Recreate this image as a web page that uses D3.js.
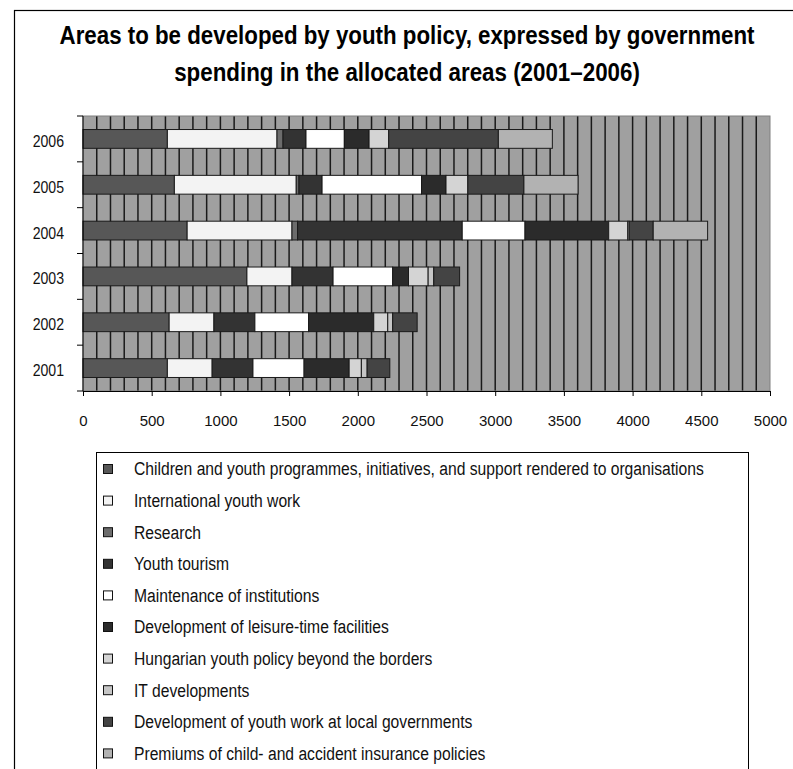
<!DOCTYPE html>
<html><head><meta charset="utf-8">
<script src="https://cdn.jsdelivr.net/npm/d3@7"></script>
<style>body{margin:0;background:#fff}svg{display:block}</style>
</head><body>
<svg id="c" width="793" height="769"></svg>
<script>
const years = ["2001","2002","2003","2004","2005","2006"];
const seriesNames = [
  "Children and youth programmes, initiatives, and support rendered to organisations",
  "International youth work",
  "Research",
  "Youth tourism",
  "Maintenance of institutions",
  "Development of leisure-time facilities",
  "Hungarian youth policy beyond the borders",
  "IT developments",
  "Development of youth work at local governments",
  "Premiums of child- and accident insurance policies"
];
// values per year 2001..2006
const children      = [614, 627, 1193, 758, 665, 614];
const international = [326, 326, 328, 763, 887, 798];
const research      = [0, 0, 0, 41, 20, 44];
const tourism       = [297, 298, 299, 1198, 168, 167];
const maintenance   = [372, 391, 434, 457, 724, 279];
const leisure       = [328, 474, 115, 609, 178, 180];
const hungarian     = [89, 102, 143, 139, 159, 143];
const itDev         = [42, 36, 41, 10, 0, 0];
const localGov      = [165, 178, 188, 175, 408, 798];
const premiums      = [0, 0, 0, 396, 394, 393];
const xTicks = [0,500,1000,1500,2000,2500,3000,3500,4000,4500,5000];
const titleLines = ["Areas to be developed by youth policy, expressed by government",
                    "spending in the allocated areas (2001–2006)"];
const colors = ["#575757","#f3f3f3","#6c6c6c","#333333","#ffffff","#2b2b2b","#d4d4d4","#c6c6c6","#444444","#b2b2b2"];

const seriesVals = [children, international, research, tourism, maintenance, leisure, hungarian, itDev, localGov, premiums];
const table = years.map((y,i)=>{const o={year:y}; seriesNames.forEach((n,k)=>o[n]=seriesVals[k][i]); return o;});
const stacked = d3.stack().keys(seriesNames)(table);

const svg = d3.select("#c");
// outer frame
svg.append("rect").attr("x",14.5).attr("y",10.5).attr("width",800).attr("height",800)
  .attr("fill","none").attr("stroke","#000").attr("stroke-width",1.2);

// title (horizontally condensed to the reference widths)
const tFont = "'Liberation Sans', Arial, sans-serif";
const titleW = [695, 466], titleY = [44, 81];
titleLines.forEach((t,i)=>{
  const g = svg.append("g");
  const tx = g.append("text").attr("x",0).attr("y",0).attr("text-anchor","middle")
    .attr("font-family",tFont).attr("font-weight","bold").attr("font-size",25).text(t);
  const w = tx.node().getComputedTextLength();
  g.attr("transform",`translate(407,${titleY[i]}) scale(${titleW[i]/w},1)`);
});

const L=83, R=770, T=116, B=391;
const x = d3.scaleLinear().domain([0,5000]).range([L,R]);
const y = d3.scaleBand().domain(years.slice().reverse()).range([T,B]).paddingInner(0.59).paddingOuter(0.295);

// plot background
svg.append("rect").attr("x",L).attr("y",T).attr("width",R-L).attr("height",B-T).attr("fill","#a0a0a0");
// gridlines every 100
svg.append("g").selectAll("line").data(d3.range(100,5000,100)).join("line")
  .attr("x1",d=>x(d)).attr("x2",d=>x(d)).attr("y1",T).attr("y2",B)
  .attr("stroke","#1a1a1a").attr("stroke-width",1.5);
svg.append("rect").attr("x",L).attr("y",T).attr("width",R-L).attr("height",B-T)
  .attr("fill","none").attr("stroke","#808080").attr("stroke-width",1);

// bars
svg.append("g").selectAll("g").data(stacked).join("g")
  .attr("fill",(d,i)=>colors[i])
  .selectAll("rect").data(d=>d.filter(s=>s[1]-s[0]>0)).join("rect")
  .attr("x",d=>x(d[0])).attr("width",d=>x(d[1])-x(d[0]))
  .attr("y",d=>y(d.data.year)).attr("height",y.bandwidth())
  .attr("stroke","#1a1a1a").attr("stroke-width",1);

// axes
const axFont = "'Liberation Sans', Arial, sans-serif";
const xa = svg.append("g").attr("transform",`translate(0,${B})`)
  .call(d3.axisBottom(x).tickValues(xTicks).tickSize(5).tickPadding(19).tickFormat(d3.format("d")));
xa.select(".domain").attr("stroke","#000");
xa.selectAll("line").attr("stroke","#000");
xa.selectAll("text").attr("font-family",axFont).attr("font-size",15).attr("fill","#111");

// y axis: line, ticks at band boundaries, labels centered
svg.append("line").attr("x1",L).attr("x2",L).attr("y1",T).attr("y2",B).attr("stroke","#000");
svg.append("g").selectAll("line").data(d3.range(0,7)).join("line")
  .attr("x1",L-6).attr("x2",L).attr("y1",d=>T+d*(B-T)/6).attr("y2",d=>T+d*(B-T)/6)
  .attr("stroke","#000");
svg.append("g").selectAll("text").data(years).join("text")
  .attr("transform",d=>`translate(64,${y(d)+y.bandwidth()/2+2}) scale(0.83,1)`).attr("dy","0.35em")
  .attr("text-anchor","end").attr("font-family",axFont).attr("font-size",17).attr("fill","#111")
  .text(d=>d);

// legend
svg.append("rect").attr("x",96.5).attr("y",452.5).attr("width",652).attr("height",400)
  .attr("fill","#fff").attr("stroke","#000").attr("stroke-width",1);
const lg = svg.append("g").selectAll("g").data(seriesNames).join("g")
  .attr("transform",(d,i)=>`translate(0,${469+i*31.6})`);
lg.append("rect").attr("x",103.5).attr("y",-4.5).attr("width",9).attr("height",9)
  .attr("fill",(d,i)=>colors[i]).attr("stroke","#111").attr("stroke-width",1);
lg.append("text").attr("transform","translate(134,0) scale(0.87,1)").attr("dy","0.35em")
  .attr("font-family",axFont).attr("font-size",18).attr("fill","#111").text(d=>d);
</script>
</body></html>
